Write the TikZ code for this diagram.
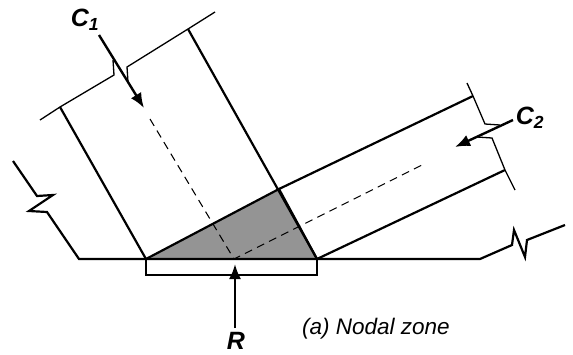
\documentclass[tikz,border=0pt]{standalone}
\usepackage{fontspec}
\setmainfont{Liberation Sans}
\usepackage{tikz}
\usetikzlibrary{arrows.meta, positioning}

\tikzset{
    member/.style={line width=2.2pt, line join=miter},
    cutline/.style={line width=1.3pt},
    axis/.style={line width=1.1pt, dash pattern=on 8pt off 5.5pt},
    load/.style={line width=2.4pt, -{Latex[length=15pt,width=12pt]}},
    force/.style={font=\fontsize{25}{25}\selectfont\bfseries\itshape, inner sep=0pt},
}

\begin{document}
\begin{tikzpicture}[x=1pt,y=-1pt]
        \useasboundingbox (0,0) rectangle (573,354);

        \coordinate (left) at (146,259);
        \coordinate (right) at (317,259);
        \coordinate (apex) at (279,189);
        \coordinate (centre) at (234,259);

        % nodal zone
        \fill[black!42] (left) -- (apex) -- (right) -- cycle;
        \draw[axis] (150,119) -- (centre) -- (424,164);
        \draw[member] (left) -- (apex) -- (right);

        % bearing plate
        \draw[member] (left) rectangle (317,275);

        % beam with breaks
        \draw[member] (13,161) -- (37,196) -- (53,195) -- (29,211) -- (47,212)
            -- (79,259) -- (480,259) -- (512,245) -- (514,230) -- (525,257)
            -- (527,240) -- (565,225);

        % struts
        \coordinate (c1a) at (60,107);
        \coordinate (c1b) at (188,29);
        \coordinate (c2a) at (473,96);
        \coordinate (c2b) at (505,170);
        \draw[member] (left) -- (c1a);
        \draw[member] (right) -- (c1b);
        \draw[member] (apex) -- (c2a);
        \draw[member] (right) -- (c2b);

        % section cuts
        \draw[cutline] (40,120) -- (c1a) -- (114,75) -- (113,60);
        \draw[cutline] (128,82) -- (127,67) -- (c1b) -- (215,12);
        \draw[cutline] (467,83) -- (c2a) -- (485,124) -- (500,125);
        \draw[cutline] (477,137) -- (492,138) -- (c2b) -- (515,190);

        % loads
        \node[force] (c1) at (85,20) {C\textsubscript{1}};
        \node[force] (c2) at (530,118) {C\textsubscript{2}};
        \node[force] (r) at (236,341) {R};
        \coordinate (c1tip) at (144,108);
        \coordinate (c2tip) at (455,147);
        \coordinate (rtip) at (235,264);
        \draw[load] (99,35) -- (c1tip);
        \draw[load] (513,120) -- (c2tip);
        \draw[load] (r.north -| rtip) ++(0,-4) -- (rtip);

        \node[font=\fontsize{22.5}{22.5}\selectfont\itshape, inner sep=0pt] (caption) at (376,329) {(a) Nodal zone};
    \end{tikzpicture}
\end{document}
